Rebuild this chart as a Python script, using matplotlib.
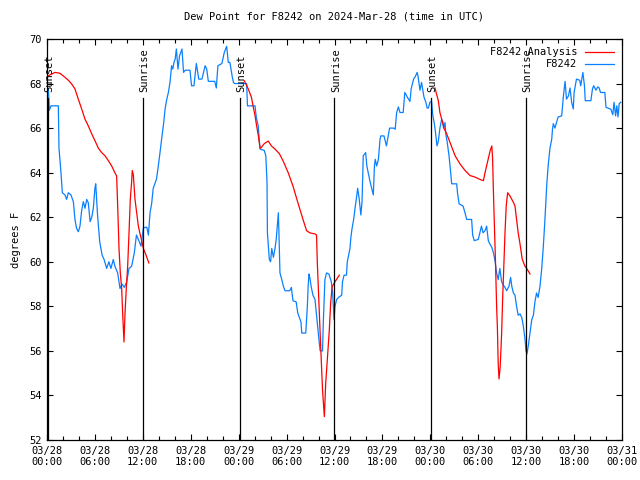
import numpy as np
import matplotlib
matplotlib.use("Agg")
import matplotlib.pyplot as plt
from matplotlib.ticker import MultipleLocator

# hours since 03/28 00:00 UTC
obs_hours = [
    0.17, 0.29, 0.5, 1.42, 1.5, 1.75, 1.92, 2.25, 2.45, 2.67, 3.0, 3.3, 3.5, 3.7, 3.92, 4.13,
    4.34, 4.55, 4.76, 4.97, 5.17, 5.4, 5.6, 5.8, 6.0, 6.1, 6.33, 6.6, 6.9, 7.15, 7.47, 7.75,
    8.0, 8.3, 8.5, 8.85, 9.14, 9.4, 9.68, 9.98, 10.27, 10.6, 10.93, 11.2, 11.5, 11.77, 12.06,
    12.3, 12.5, 12.7, 12.9, 13.1, 13.3, 13.5, 13.7, 13.9, 14.15, 14.35, 14.6, 14.8, 15.0, 15.2,
    15.4, 15.6, 15.75, 15.9, 16.05, 16.2, 16.4, 16.6, 16.9, 17.1, 17.3, 17.9, 18.1, 18.4, 18.7,
    19.0, 19.4, 19.8, 20.0, 20.2, 21.0, 21.2, 21.4, 21.9, 22.2, 22.5, 22.7, 22.9, 23.2, 23.35,
    23.5, 24.15,
    25.0, 25.1, 26.05, 26.2, 26.45, 26.67, 27.2, 27.4, 27.55, 27.6, 27.84, 28.0, 28.14, 28.35,
    28.55, 28.7, 28.9, 28.97, 29.05, 29.17, 29.4, 29.6, 29.8, 30.4, 30.6, 30.8, 31.2, 31.4,
    31.8, 31.9, 32.4, 32.6, 32.7, 32.8, 32.9, 33.1, 33.3, 33.56, 33.75, 33.97, 34.2, 34.5,
    34.6, 34.8, 35.0, 35.3, 35.6, 35.77, 35.94, 36.06,
    36.27, 36.5, 36.9, 37.0, 37.2, 37.5, 37.6, 37.94, 38.05, 38.2, 38.4, 38.57, 38.8, 38.9,
    39.1, 39.3, 39.45, 39.6, 39.9, 40.05, 40.45, 40.65, 40.86, 41.0, 41.1, 41.28, 41.5, 41.7,
    41.8, 42.2, 42.4, 42.5, 42.9, 43.4, 43.6, 43.78, 44.0, 44.2, 44.6, 44.8, 44.97, 45.1,
    45.45, 45.6, 45.9, 46.1, 46.35, 46.45, 46.7, 46.9, 47.2, 47.44, 47.6, 47.75, 47.95,
    48.16, 48.3, 48.5, 48.65, 48.83, 49.0, 49.2, 49.42, 49.55, 49.65, 49.84, 49.95, 50.1,
    50.34, 50.55, 50.67, 51.3, 51.4, 51.6, 52.1, 52.34, 52.55, 53.17, 53.3, 53.5, 54.0, 54.2,
    54.4, 54.6, 54.85, 55.05, 55.26, 55.45, 55.7, 55.9, 56.1, 56.3, 56.5, 56.7, 56.93, 57.15,
    57.35, 57.55, 57.85, 58.05, 58.2, 58.4, 58.6, 58.8, 59.0, 59.23, 59.45, 59.65, 59.86,
    59.98, 60.1, 60.27, 60.48, 60.7, 60.9, 61.1, 61.3, 61.5, 61.73, 61.95, 62.15, 62.35,
    62.57, 62.75, 62.98, 63.2, 63.3, 63.4, 63.6, 63.8, 64.0, 64.45, 64.65, 64.87, 65.05, 65.3,
    65.49, 65.7, 65.9, 66.0, 66.3, 66.7, 66.83, 67.1, 67.3, 67.4, 68.1, 68.3, 68.45, 68.75,
    68.95, 69.15, 69.3, 69.85, 70.0, 70.6, 70.85, 71.0, 71.2, 71.35, 71.5, 71.65, 71.85,
]
obs_dewpt = [
    67.76, 66.8, 67.0, 67.0, 65.1, 64.0, 63.1, 63.0, 62.8, 63.1, 63.0, 62.7, 61.9, 61.5, 61.35, 61.6,
    62.3, 62.7, 62.4, 62.8, 62.65, 61.8, 62.0, 62.4, 63.3, 63.5, 62.1, 60.9, 60.3, 60.1, 59.7, 60.0,
    59.7, 60.1, 59.8, 59.5, 58.8, 59.0, 58.85, 59.1, 59.7, 59.8, 60.4, 61.2, 60.95, 60.7, 61.5,
    61.55, 61.55, 61.2, 62.2, 62.6, 63.3, 63.5, 63.7, 64.2, 64.9, 65.5, 66.2, 66.9, 67.3, 67.6,
    68.05, 68.8, 68.65, 68.95, 69.1, 69.55, 68.65, 69.25, 69.55, 68.5, 68.6, 68.6, 67.9, 67.9, 68.9,
    68.2, 68.2, 68.8, 68.65, 68.1, 68.1, 67.8, 68.8, 68.9, 69.4, 69.67, 68.95, 68.95, 68.3, 68.05,
    68.0, 68.0,
    68.0, 67.0, 67.0, 66.5, 66.1, 65.06, 65.0, 64.76, 63.57, 61.3, 60.1, 60.0, 60.6, 60.2,
    60.6, 61.0, 61.85, 62.2, 61.2, 59.5, 59.2, 58.9, 58.7, 58.7, 58.85, 58.25, 58.2, 57.7,
    57.3, 56.8, 56.8, 58.0, 58.9, 59.45, 59.3, 58.85, 58.5, 58.3, 57.6, 56.8, 56.0, 56.0,
    57.3, 59.2, 59.5, 59.45, 59.1, 58.6, 57.4, 58.0,
    58.3, 58.4, 58.5, 59.1, 59.4, 59.4, 60.0, 60.6, 61.1, 61.5, 61.9, 62.4, 63.0, 63.3,
    62.8, 62.1, 62.7, 64.76, 64.9, 64.3, 63.6, 63.3, 63.0, 64.3, 64.6, 64.3, 64.6, 65.5,
    65.65, 65.65, 65.36, 65.2, 66.0, 66.0, 65.95, 66.7, 66.95, 66.7, 66.7, 67.6, 67.5, 67.4,
    67.2, 67.76, 68.2, 68.3, 68.5, 68.35, 67.7, 68.05, 67.4, 67.16, 66.9, 66.9, 67.16,
    67.2, 66.6, 66.2, 65.8, 65.2, 65.4, 66.0, 66.4, 66.3, 66.0, 66.25, 65.7, 65.4,
    64.76, 64.0, 63.5, 63.5, 63.1, 62.6, 62.5, 62.2, 61.9, 61.9, 61.2, 60.95, 61.0, 61.3,
    61.6, 61.3, 61.4, 61.6, 60.95, 60.8, 60.65, 60.4, 60.05, 59.5, 59.2, 59.7, 59.1, 58.95,
    58.85, 58.7, 58.9, 59.3, 58.9, 58.6, 58.5, 58.0, 57.6, 57.66, 57.5, 57.1, 56.5,
    56.0, 55.86, 56.24, 56.8, 57.4, 57.6, 58.2, 58.6, 58.4, 58.9, 59.7, 60.7, 61.9,
    63.4, 64.3, 65.1, 65.5, 65.96, 66.2, 66.0, 66.25, 66.5, 66.55, 67.4, 68.1, 67.3, 67.45,
    67.8, 67.15, 66.86, 67.6, 68.2, 68.15, 67.9, 68.5, 67.9, 67.23, 67.23, 67.76, 67.9, 67.7,
    67.85, 67.8, 67.6, 67.6, 66.93, 66.85, 66.6, 67.16, 66.55, 67.0, 66.5, 67.1, 67.16,
]

# analysis curve, NaN splits the three nights
ana_hours = [
    0.17, 0.59, 1.0, 1.63, 2.25, 2.67, 3.09, 3.5, 3.92, 4.34, 4.76, 5.17, 5.6, 6.0, 6.43, 6.85,
    7.26, 7.68, 8.1, 8.5, 8.72, 8.85, 9.02, 9.18, 9.35, 9.47, 9.64, 9.77, 9.93, 10.1, 10.27,
    10.43, 10.6, 10.68, 10.81, 11.02, 11.23, 11.44, 11.65, 11.86, 12.06, 12.4, 12.75,
    13.0,
    24.7, 25.2, 25.6, 25.8, 26.05, 26.25, 26.46, 26.67, 26.76, 27.2, 27.7, 28.1, 28.55, 29.1,
    29.6, 30.2, 30.8, 31.4, 32.1, 32.5, 32.9, 33.56, 33.75, 33.85, 34.1, 34.27, 34.5, 34.73,
    34.9, 35.1, 35.35, 35.52, 35.7, 36.06, 36.6,
    37.0,
    48.58, 49.0, 49.2, 49.42, 49.75, 50.05, 50.46, 51.1, 51.7, 52.34, 52.97, 53.6, 54.2, 54.64,
    54.85, 55.2, 55.5, 55.7, 55.8, 55.88, 56.0, 56.15, 56.3, 56.4, 56.5, 56.6, 56.75, 56.93,
    57.05, 57.2, 57.35, 57.5, 57.68, 57.95, 58.4, 58.6, 58.8, 59.0, 59.2, 59.5, 59.65, 59.85,
    60.07, 60.48,
]
ana_dewpt = [
    68.35, 68.43, 68.5, 68.46, 68.28, 68.15, 67.98, 67.76, 67.3, 66.86, 66.4, 66.1, 65.74, 65.44, 65.1, 64.9,
    64.76, 64.54, 64.3, 64.0, 63.85, 62.5, 60.57, 59.5, 58.8, 57.7, 56.4, 57.7, 58.8, 59.8, 61.3,
    62.8, 63.6, 64.1, 63.9, 62.8, 62.2, 61.6, 61.25, 60.95, 60.6, 60.3, 59.95,
    np.nan,
    68.13, 67.76, 67.38, 67.0, 66.56, 66.1, 65.66, 65.14, 65.1, 65.3, 65.42, 65.2, 65.06, 64.85,
    64.5, 64.0, 63.4, 62.67, 61.85, 61.4, 61.3, 61.25, 61.2, 59.95, 57.7, 56.2, 54.25, 53.05,
    54.55, 55.6, 56.94, 58.15, 58.88, 59.1, 59.4,
    np.nan,
    67.8, 67.23, 66.7, 66.4, 65.96, 65.74, 65.36, 64.76, 64.4, 64.1, 63.87, 63.8, 63.7, 63.64,
    64.0, 64.54, 65.0, 65.2, 64.6, 63.4, 61.9, 60.1, 58.0, 57.0, 55.4, 54.74, 55.3, 56.8,
    58.3, 59.8, 61.3, 62.5, 63.1, 62.97, 62.67, 62.5, 61.9, 61.3, 60.87, 60.13, 59.98, 59.8,
    59.7, 59.45,
]

sun_hours = [0.12, 12.02, 24.17, 35.98, 48.08, 59.98]
sun_labels = ["Sunset", "Sunrise", "Sunset", "Sunrise", "Sunset", "Sunrise"]

tick_hours = list(range(0, 73, 6))
tick_labels = ["03/28\n00:00", "03/28\n06:00", "03/28\n12:00", "03/28\n18:00",
               "03/29\n00:00", "03/29\n06:00", "03/29\n12:00", "03/29\n18:00",
               "03/30\n00:00", "03/30\n06:00", "03/30\n12:00", "03/30\n18:00",
               "03/31\n00:00"]

plt.rcParams['font.family'] = ['DejaVu Sans Mono']
plt.rcParams['font.size'] = 7.5

fig = plt.figure(figsize=(6.4, 4.8), dpi=100)
ax = fig.add_axes([47/640, 40/480, 575/640, 401/480])

ax.plot(ana_hours, ana_dewpt, color='#ff0000', lw=0.9, label='F8242 Analysis', zorder=3)
ax.plot(obs_hours, obs_dewpt, color='#0a80ff', lw=0.9, label='F8242', zorder=2)

for h, lab in zip(sun_hours, sun_labels):
    ax.plot([h, h], [52, 67.35], color='black', lw=0.9, zorder=4)
    ax.text(h + 0.2, 67.6, lab, rotation=90, ha='center', va='bottom', fontsize=7.5)

ax.set_xlim(0, 72)
ax.set_ylim(52, 70)
ax.set_xticks(tick_hours)
ax.set_xticklabels(tick_labels)
ax.xaxis.set_minor_locator(MultipleLocator(2))
ax.set_yticks(range(52, 71, 2))
ax.tick_params(which='both', direction='in', top=True, right=True, width=0.8)
ax.tick_params(which='major', length=4.5, pad=4)
ax.tick_params(which='minor', length=3)
for s in ax.spines.values():
    s.set_linewidth(0.9)

ax.set_ylabel('degrees F', labelpad=6)
ax.set_title('Dew Point for F8242 on 2024-Mar-28 (time in UTC)', pad=14, fontsize=7.5)
ax.legend(loc='upper right', frameon=False, markerfirst=False, handlelength=2.8,
          handletextpad=0.7, labelspacing=0.2, borderaxespad=0.4, fontsize=7.5)

fig.savefig('out.png', dpi=100)
